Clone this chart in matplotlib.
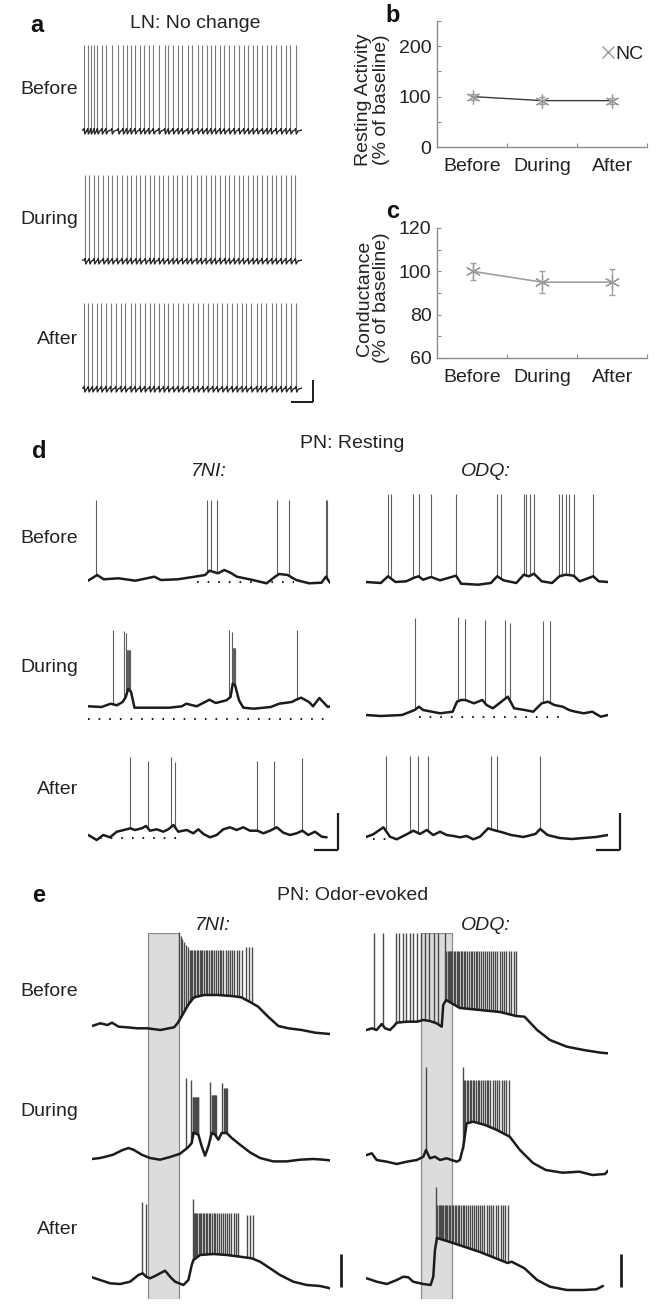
import numpy as np
import matplotlib
matplotlib.use("Agg")
import matplotlib.pyplot as plt
from matplotlib.lines import Line2D

plt.rcParams['font.family'] = ['Liberation Sans', 'DejaVu Sans']

# ------------------------------------------------------------------ data
# panel a : LN spike times (s) in a 10 s window
A_BEFORE_SPK = [0.10, 0.26, 0.40, 0.55, 0.70, 0.90, 1.08, 1.35, 1.65, 1.86, 2.03, 2.21,
                2.41, 2.64, 2.83, 3.03, 3.24, 3.49, 3.76, 3.92, 4.14, 4.35, 4.55, 4.80,
                5.01, 5.26, 5.47, 5.67, 5.86, 6.06, 6.27, 6.47, 6.70, 6.91, 7.14, 7.35,
                7.56, 7.76, 7.97, 8.20, 8.40, 8.59, 8.82, 9.05, 9.26, 9.47, 9.71]
A_DURING_SPK = [0.14, 0.33, 0.55, 0.74, 0.97, 1.17, 1.38, 1.60, 1.82, 2.03, 2.23, 2.45,
                2.65, 2.88, 3.09, 3.27, 3.50, 3.70, 3.92, 4.12, 4.33, 4.55, 4.76, 4.97,
                5.21, 5.41, 5.62, 5.85, 6.06, 6.27, 6.50, 6.70, 6.91, 7.12, 7.33, 7.55,
                7.76, 7.97, 8.18, 8.40, 8.62, 8.83, 9.05, 9.26, 9.49, 9.70]
A_AFTER_SPK = [0.10, 0.29, 0.47, 0.67, 0.88, 1.09, 1.30, 1.53, 1.76, 1.97, 2.21, 2.42,
               2.65, 2.85, 3.08, 3.27, 3.50, 3.71, 3.92, 4.15, 4.36, 4.58, 4.83, 5.06,
               5.27, 5.50, 5.71, 5.94, 6.15, 6.38, 6.59, 6.82, 7.03, 7.26, 7.47, 7.70,
               7.94, 8.14, 8.35, 8.62, 8.83, 9.05, 9.27, 9.49, 9.73]
A_PEAK = 25.0
A_REST = -60.0

# panels b, c
CONDITIONS = ['Before', 'During', 'After']
REST_ACT = [100, 92, 92]
REST_ACT_ERR = [6, 7, 6]
CONDUCT = [100, 95, 95]
CONDUCT_ERR = [4, 5, 6]

# panel d : PN resting, baseline knots (t s, mV) and spikes (t, peak mV)
D_BEF_L_T = [0, 0.38, 0.65, 1.26, 1.96, 2.74, 3.01, 3.71, 4.41, 4.84, 5.02, 5.37, 5.63, 5.89,
             6.15, 6.68, 7.38, 7.73, 7.90, 8.25, 8.60, 9.13, 9.65, 9.83, 10.0]
D_BEF_L_V = [-60.7, -55, -59.3, -58.3, -60.7, -56.7, -60, -59.3, -56.7, -55, -50.7, -53.3, -50,
             -52.7, -56.7, -59.3, -63.3, -56.7, -54, -55, -60, -63.3, -62.7, -56.7, -62.7]
D_BEF_L_SPK = [0.33, 4.93, 5.07, 5.33, 7.83, 8.29, 9.83, 9.88]
D_BEF_L_PK = 20.0

D_BEF_R_T = [0, 0.61, 0.91, 1.22, 1.66, 1.96, 2.17, 2.36, 2.69, 3.06, 3.72, 3.93, 4.63, 5.16,
             5.42, 5.68, 6.21, 6.52, 6.73, 6.94, 7.26, 7.69, 7.99, 8.25, 8.58, 8.83, 9.39,
             9.62, 10.0]
D_BEF_R_V = [-60, -61, -54.3, -60, -59.3, -56, -54.3, -57.7, -55, -58.3, -53.7, -61.7, -62.7,
             -61, -54.3, -58.3, -61, -52.7, -54.3, -51.7, -59.3, -61, -54.3, -52.7, -53.7,
             -59.3, -54.3, -59.3, -60]
D_BEF_R_SPK = [0.90, 1.05, 1.96, 2.17, 2.69, 3.72, 5.41, 5.57, 6.52, 6.62, 6.76, 6.93, 7.98,
               8.11, 8.25, 8.40, 8.58, 9.38]
D_BEF_R_PK = 28.0

D_DUR_L_T = [0, 0.56, 0.94, 1.19, 1.43, 1.56, 1.66, 1.78, 1.92, 2.66, 3.36, 3.88, 4.06, 4.49,
             5.02, 5.28, 5.72, 5.89, 5.98, 6.08, 6.24, 6.42, 6.85, 7.55, 7.90, 8.42, 8.60,
             8.81, 9.13, 9.30, 9.56, 9.91, 10.0]
D_DUR_L_V = [-59.3, -60, -56.7, -58.3, -55, -50, -41.7, -45, -60.7, -60.7, -60.7, -59.3, -56.7,
             -59.3, -52.7, -56, -53.3, -50, -36.7, -38.3, -53.3, -60.7, -61.7, -60, -56.7, -55,
             -52.7, -50.7, -55, -59.3, -51, -60, -59.3]
D_DUR_L_SPK = [1.05, 1.49, 1.57, 1.61, 1.63, 1.65, 1.67, 1.69, 1.71, 1.73, 1.75,
               5.82, 5.94, 5.98, 6.00, 6.02, 6.04, 6.06, 6.08, 8.62]
D_DUR_L_PK = [17, 16, 14, -3, -3, -3, -3, -3, -3, -3, -3,
              17, 15, -1, -1, -1, -1, -1, -1, 17]

D_DUR_R_T = [0, 0.61, 1.49, 2.01, 2.19, 2.36, 3.06, 3.58, 3.76, 3.93, 4.11, 4.46, 4.81, 4.98,
             5.24, 5.42, 5.68, 5.86, 6.12, 6.56, 6.91, 7.26, 7.52, 7.78, 8.13, 8.39, 8.65,
             9.0, 9.35, 9.70, 10.0]
D_DUR_R_V = [-60, -61, -60, -55, -51.7, -55, -58.3, -56.7, -46.7, -45, -45, -48.3, -45, -50,
             -53.3, -50, -45, -41.7, -53.3, -55, -56.7, -48.3, -46.7, -50, -51.7, -55, -56.7,
             -58.3, -56.7, -61.7, -60]
D_DUR_R_SPK = [2.03, 3.81, 4.09, 4.90, 5.75, 5.93, 7.31, 7.60]
D_DUR_R_PK = [36.7, 38.3, 35.7, 35, 35, 32.3, 34.3, 34.3]

D_AFT_L_T = [0.01, 0.36, 0.63, 0.91, 1.19, 1.60, 1.75, 1.94, 2.22, 2.40, 2.56, 2.84, 3.11, 3.32,
             3.53, 3.73, 4.08, 4.35, 4.56, 4.77, 5.04, 5.32, 5.59, 5.87, 6.14, 6.42, 6.69,
             7.0, 7.25, 7.52, 7.80, 8.07, 8.35, 8.62, 8.86, 9.10, 9.38, 9.66, 9.86]
D_AFT_L_V = [-60, -65, -60, -62.3, -56.7, -54.3, -53.3, -55, -53.3, -51, -55.7, -54.3, -56.7,
             -54.3, -50, -56.7, -55, -58.3, -54.3, -59, -62.3, -60, -54.3, -52.3, -55, -52.3,
             -55.7, -55.7, -58.3, -55.7, -52.3, -57.7, -60, -58.3, -55.7, -60, -56.7, -61.7,
             -62.3]
D_AFT_L_SPK = [1.75, 2.47, 3.42, 3.61, 7.00, 7.70, 8.86]
D_AFT_L_PK = [18, 14, 18, 13, 14, 14, 17]

D_AFT_R_T = [0, 0.30, 0.72, 0.99, 1.27, 1.68, 1.96, 2.23, 2.51, 2.78, 3.06, 3.33, 3.61, 3.88,
             4.16, 4.43, 4.71, 5.05, 5.26, 5.54, 6.0, 6.5, 7.0, 7.2, 7.5, 8.0, 8.5, 9.0, 9.5,
             10.0]
D_AFT_R_V = [-60, -57.3, -50.3, -59.7, -62.3, -57.3, -53.7, -57, -53, -58, -54.7, -58, -59,
             -60.3, -59, -62.3, -59.7, -51.3, -53, -54.7, -58, -60, -57, -52, -58, -61, -62,
             -61, -60, -58]
D_AFT_R_SPK = [0.82, 1.80, 2.13, 2.57, 5.15, 5.41, 7.21]
D_AFT_R_PK = 21.0

# reference (dotted) levels: (level mV, start s, end s)
D_DOTS = {'bef_l': (-62, 4.5, 8.5), 'dur_l': (-72.3, 0.0, 10.0), 'dur_r': (-62, 2.2, 8.2),
          'aft_l': (-63, 0.5, 4.0), 'aft_r': (-62, 0.3, 1.5)}

# panel e : PN odor-evoked
E_STIM_L = (2.35, 3.66)
E_STIM_R = (2.27, 3.55)

E_BEF_L_T = [0, 0.35, 0.65, 0.84, 1.12, 1.47, 1.89, 2.32, 2.88, 3.45, 3.59, 3.80, 4.08, 4.29,
             4.72, 5.28, 5.85, 6.27, 6.62, 6.98, 7.40, 7.83, 8.25, 8.81, 9.38, 10.0]
E_BEF_L_V = [-60, -57.3, -59, -56.7, -60.7, -61.3, -62.3, -62.3, -64, -61.3, -57.3, -49, -37.3,
             -31.3, -29, -29, -30, -31.3, -35.7, -40.7, -50.7, -60, -62.3, -64, -66.7, -68]
E_BEF_L_SPK = [3.64, 3.72, 3.80, 3.88, 3.96, 4.03,
               4.10, 4.16, 4.22, 4.28, 4.34, 4.40, 4.46, 4.52, 4.58, 4.64, 4.70, 4.77, 4.84,
               4.91, 4.98, 5.05, 5.12, 5.20, 5.28, 5.36, 5.44, 5.52, 5.61, 5.70, 5.79, 5.88,
               5.98, 6.08, 6.18, 6.30, 6.48, 6.61, 6.74]
E_BEF_L_PK = [34, 30, 27, 24, 21, 19] + [16] * 30 + [19, 19, 19]

E_BEF_R_T = [0.03, 0.24, 0.44, 0.65, 0.79, 0.99, 1.13, 1.27, 1.68, 2.10, 2.37, 2.64, 2.92,
             3.13, 3.19, 3.31, 3.88, 4.71, 5.54, 6.20, 6.55, 7.07, 7.60, 8.30, 9.0, 9.70, 10.0]
E_BEF_R_V = [-60, -58.3, -60, -54, -58.3, -60, -56.7, -52.7, -51.7, -51.7, -50, -51, -53.3,
             -56.7, -35, -30, -38, -40, -42, -46, -46.7, -60, -70, -76.7, -80, -82.7, -83.3]
E_BEF_R_SPK = [0.31, 0.72, 1.22, 1.36, 1.51, 1.65, 1.80, 1.94, 2.11, 2.27, 2.44, 2.60, 2.81,
               2.99, 3.26,
               3.32, 3.37, 3.42, 3.47, 3.52, 3.57, 3.62, 3.68, 3.74, 3.80, 3.86, 3.92, 3.98,
               4.04, 4.11, 4.18, 4.25, 4.32, 4.39, 4.46, 4.53, 4.60, 4.68, 4.76, 4.84, 4.92,
               5.00, 5.08, 5.16, 5.25, 5.34, 5.43, 5.52, 5.61, 5.70, 5.80, 5.90, 6.00, 6.10,
               6.20]
E_BEF_R_PK = [37] * 15 + [19] * 40

E_DUR_L_T = [0, 0.34, 0.62, 0.89, 1.25, 1.53, 1.74, 2.09, 2.44, 2.86, 3.28, 3.70, 3.91, 4.05,
             4.19, 4.26, 4.47, 4.61, 4.75, 4.89, 5.03, 5.17, 5.31, 5.45, 5.66, 5.87, 6.22,
             6.64, 7.06, 7.62, 8.18, 8.74, 9.30, 9.72, 10.0]
E_DUR_L_V = [-60, -59, -57.4, -55.7, -51.4, -49, -50.7, -55.7, -59, -60.7, -58, -54.7, -50.7,
             -48, -44, -33.7, -35.7, -47.4, -56.7, -47.4, -34, -35.7, -40.7, -34, -34, -39,
             -45.7, -53.4, -59, -62.4, -62.4, -60.7, -60, -60.7, -61.4]
E_DUR_L_SPK = [3.94, 4.16, 4.23, 4.26, 4.29, 4.32, 4.35, 4.38, 4.41, 4.44, 4.47,
               4.96, 5.03, 5.06, 5.09, 5.12, 5.15, 5.18, 5.21,
               5.47, 5.56, 5.60, 5.64, 5.69]
E_DUR_L_PK = [21, 19] + [2] * 9 + [17] + [4] * 7 + [16] + [11] * 4

E_DUR_R_T = [0.03, 0.24, 0.44, 0.86, 1.27, 1.68, 2.10, 2.37, 2.48, 2.64, 2.85, 3.06, 3.33,
             3.75, 3.88, 4.02, 4.16, 4.43, 4.92, 5.41, 5.94, 6.36, 6.90, 7.43, 8.12, 8.82,
             9.35, 9.88, 10.0]
E_DUR_R_V = [-55, -53.3, -60, -61.7, -64, -61.7, -60, -56.7, -50, -58.3, -56.7, -60, -58.3,
             -61.7, -60, -46.7, -23.3, -21.7, -25, -30, -36.7, -50, -63, -70, -72.7, -71.7,
             -75, -74, -70.7]
E_DUR_R_SPK = [2.48, 4.00, 4.05, 4.11, 4.17, 4.23, 4.29, 4.35, 4.41, 4.47, 4.54, 4.61, 4.68,
               4.75, 4.82, 4.90, 4.98, 5.06, 5.14, 5.23, 5.32, 5.41, 5.50, 5.60, 5.70, 5.80,
               5.90]
E_DUR_R_PK = [33, 33] + [20] * 25

E_AFT_L_T = [0, 0.34, 0.76, 1.18, 1.60, 1.95, 2.13, 2.27, 2.44, 2.65, 2.86, 3.07, 3.28, 3.49,
             3.84, 4.05, 4.19, 4.26, 4.54, 5.10, 5.66, 6.22, 6.71, 7.06, 7.48, 7.90, 8.46,
             9.02, 9.58, 10.0]
E_AFT_L_V = [-54.3, -57, -60.3, -61, -58.7, -52, -50.3, -53.7, -55.3, -53, -50.3, -47.7,
             -53.7, -58.7, -62, -57, -42, -37, -32, -31, -32, -33.7, -35.3, -38.7, -45.3,
             -52, -58.7, -62, -63, -65.3]
E_AFT_L_SPK = [2.10, 2.27, 4.23,
               4.28, 4.33, 4.38, 4.43, 4.48, 4.53, 4.59, 4.65, 4.71, 4.77, 4.83, 4.90, 4.97,
               5.04, 5.11, 5.18, 5.26, 5.34, 5.42, 5.50, 5.58, 5.67, 5.76, 5.85, 5.95, 6.05,
               6.15, 6.50, 6.64, 6.75]
E_AFT_L_PK = [21, 19, 24] + [10] * 27 + [8, 8, 8]

E_AFT_R_T = [0.03, 0.44, 0.86, 1.27, 1.54, 1.75, 1.95, 2.37, 2.67, 2.78, 2.85, 2.93, 3.47,
             4.09, 4.71, 5.33, 5.85, 6.02, 6.55, 7.07, 7.60, 8.30, 9.0, 9.52, 9.79]
E_AFT_R_V = [-55.3, -58.7, -61, -57, -53.7, -54.3, -58.7, -61, -62, -53.7, -27, -15, -19,
             -24, -29, -35, -40, -38.7, -45.3, -57, -63.7, -67, -67, -66.3, -63]
E_AFT_R_SPK = [2.89, 2.95, 3.00, 3.05, 3.10, 3.15, 3.20, 3.25, 3.30, 3.36, 3.42, 3.48, 3.54,
               3.60, 3.66, 3.72, 3.79, 3.86, 3.93, 4.00, 4.07, 4.14, 4.22, 4.30, 4.38, 4.46,
               4.54, 4.62, 4.71, 4.80, 4.89, 4.98, 5.07, 5.16, 5.26, 5.36, 5.46, 5.56, 5.66,
               5.76, 5.85]
E_AFT_R_PK = [36] + [18] * 40

# scale bars (s, mV)
SCALE_A = (1.0, 22.0)
SCALE_D = (1.0, 37.0)
SCALE_E = 33.0

# ------------------------------------------------------------------ layout helpers
W, H = 660, 1313
fig = plt.figure(figsize=(W / 100, H / 100), dpi=100)
TXT = '#222222'


def px_axes(x0, y0, x1, y1, z=1):
    ax = fig.add_axes([x0 / W, 1 - y1 / H, (x1 - x0) / W, (y1 - y0) / H])
    ax.set_zorder(z)
    return ax


def ftext(x, y, s, size=14, **kw):
    kw.setdefault('ha', 'center')
    kw.setdefault('va', 'center')
    kw.setdefault('color', TXT)
    fig.text(x / W, 1 - y / H, s, fontsize=size, **kw)


VMIN, VMAX, VREST = -95.0, 45.0, -60.0


def trace_axes(x0, x1, base_px):
    ax = px_axes(x0, base_px - (VMAX - VREST), x1, base_px + (VREST - VMIN), z=2)
    ax.set_xlim(0, 10)
    ax.set_ylim(VMIN, VMAX)
    ax.axis('off')
    ax.patch.set_alpha(0)
    return ax


def draw_trace(ax, kt, kv, st, sv, base_lw=1.8, spk_lw=0.8, spk_col='#5e5e5e'):
    kt = np.asarray(kt, float)
    kv = np.asarray(kv, float)
    st = np.asarray(st, float)
    sv = np.broadcast_to(np.asarray(sv, float), st.shape)
    base_at = np.interp(st, kt, kv)
    ax.vlines(st, base_at, sv, color=spk_col, lw=spk_lw, zorder=2)
    ax.plot(kt, kv, color='#1c1c1c', lw=base_lw, zorder=3, solid_joinstyle='round',
            solid_capstyle='round')


def dotted(ax, spec):
    lev, t0, t1 = spec
    ax.hlines(lev, t0, t1, colors='#222222', lw=1.5, linestyles=(0, (0.8, 4.3)), zorder=1)


def scalebar(ax, x_end, v_bot, t_len, v_len, lw=1.6):
    if t_len:
        ax.plot([x_end - t_len, x_end], [v_bot, v_bot], color='#1c1c1c', lw=lw,
                clip_on=False, solid_capstyle='butt')
    ax.plot([x_end, x_end], [v_bot, v_bot + v_len], color='#1c1c1c', lw=lw,
            clip_on=False, solid_capstyle='butt')


# ------------------------------------------------------------------ panel a
AHP_SHAPE = [(-0.03, 0.0), (0.0, 1.5), (0.03, -4.0), (0.11, -1.0)]


def ln_trace(ax, spk):
    t, v = [0.0], [A_REST]
    for s in spk:
        for dt, dv in AHP_SHAPE:
            t.append(s + dt)
            v.append(A_REST + dv)
    t.append(10.0)
    v.append(A_REST)
    ax.vlines(spk, A_REST, A_PEAK, color='#7a7a7a', lw=0.8, zorder=2)
    ax.plot(t, v, color='#262626', lw=1.0, zorder=3)


ftext(37, 25, 'a', size=17, weight='bold', color='#111111')
ftext(195, 23, 'LN: No change')
for lab, base, spk in [('Before', 130, A_BEFORE_SPK), ('During', 260, A_DURING_SPK),
                       ('After', 388, A_AFTER_SPK)]:
    ax = trace_axes(82, 302, base)
    ln_trace(ax, spk)
    ftext(78, base - 40 if lab != 'After' else base - 48, lab, ha='right')
    if lab == 'After':
        scalebar(ax, 10.5, -73.7, SCALE_A[0], SCALE_A[1], lw=1.4)

# ------------------------------------------------------------------ panels b, c
xs = np.arange(1, len(CONDITIONS) + 1)


def style_stat_axes(ax, ylim, major, minor):
    ax.set_xlim(0.49, 3.5)
    ax.set_ylim(*ylim)
    for s in ['top', 'right']:
        ax.spines[s].set_visible(False)
    for s in ['left', 'bottom']:
        ax.spines[s].set_color('#8c8c8c')
        ax.spines[s].set_linewidth(1.0)
    ax.set_yticks(major)
    ax.set_yticks(minor, minor=True)
    ax.set_xticks(xs)
    ax.set_xticklabels(CONDITIONS)
    ax.set_xticks([1.5, 2.5, 3.5], minor=True)
    ax.tick_params(axis='both', which='both', direction='in', color='#8c8c8c',
                   labelsize=14, labelcolor=TXT, length=3, width=0.8)
    ax.tick_params(axis='x', which='major', length=0, pad=8)
    ax.tick_params(axis='y', which='major', pad=4)
    ax.patch.set_alpha(0)


ASTER = (6, 2, 0)

axb = px_axes(437, 21, 647, 147)
style_stat_axes(axb, (0, 250), [0, 100, 200], [50, 150, 250])
axb.plot(xs, REST_ACT, color='#3a3a3a', lw=1.0, zorder=2)
axb.errorbar(xs, REST_ACT, yerr=REST_ACT_ERR, fmt='none', ecolor='#9a9a9a', elinewidth=0.9,
             capsize=2.5, zorder=3)
axb.plot(xs, REST_ACT, ls='none', marker=ASTER, ms=10, mew=0.9, mec='#9a9a9a', zorder=4)
leg = axb.legend([Line2D([], [], ls='none', marker='x', ms=8, mew=1.0, color='#9a9a9a')],
                 ['NC'], loc='upper right', bbox_to_anchor=(1.02, 0.87), frameon=False,
                 handlelength=0.6, handletextpad=0.1, borderaxespad=0, fontsize=14)
for tx in leg.get_texts():
    tx.set_color(TXT)
ftext(393, 15, 'b', size=17, weight='bold', color='#111111')
ftext(364, 100, 'Resting Activity', rotation=90)
ftext(382, 100, '(% of baseline)', rotation=90)

axc = px_axes(437, 228, 647, 358)
style_stat_axes(axc, (60, 120), [60, 80, 100, 120], [70, 90, 110])
axc.plot(xs, CONDUCT, color='#a0a0a0', lw=1.2, zorder=2)
axc.errorbar(xs, CONDUCT, yerr=CONDUCT_ERR, fmt='none', ecolor='#a0a0a0', elinewidth=0.9,
             capsize=2.5, zorder=3)
axc.plot(xs, CONDUCT, ls='none', marker=ASTER, ms=11, mew=0.9, mec='#9a9a9a', zorder=4)
ftext(393, 212, 'c', size=17, weight='bold', color='#111111')
ftext(364, 298, 'Conductance', rotation=90)
ftext(382, 298, '(% of baseline)', rotation=90)

# ------------------------------------------------------------------ panel d
ftext(39, 452, 'd', size=17, weight='bold', color='#111111')
ftext(352, 443, 'PN: Resting')
ftext(209, 472, '7NI:', style='italic')
ftext(486, 472, 'ODQ:', style='italic')

DL, DR = (88, 330), (366, 608)
rows_d = [
    ('Before', 539, (580, D_BEF_L_T, D_BEF_L_V, D_BEF_L_SPK, D_BEF_L_PK, 'bef_l'),
     (582, D_BEF_R_T, D_BEF_R_V, D_BEF_R_SPK, D_BEF_R_PK, None)),
    ('During', 667, (707, D_DUR_L_T, D_DUR_L_V, D_DUR_L_SPK, D_DUR_L_PK, 'dur_l'),
     (715, D_DUR_R_T, D_DUR_R_V, D_DUR_R_SPK, D_DUR_R_PK, 'dur_r')),
    ('After', 789, (835, D_AFT_L_T, D_AFT_L_V, D_AFT_L_SPK, D_AFT_L_PK, 'aft_l'),
     (837, D_AFT_R_T, D_AFT_R_V, D_AFT_R_SPK, D_AFT_R_PK, 'aft_r')),
]
for lab, ly, left, right in rows_d:
    ftext(78, ly, lab, ha='right')
    for (x0, x1), spec in [(DL, left), (DR, right)]:
        base, kt, kv, st, sv, dkey = spec
        ax = trace_axes(x0, x1, base)
        if dkey:
            dotted(ax, D_DOTS[dkey])
        draw_trace(ax, kt, kv, st, sv)
        if lab == 'After':
            if x0 == DL[0]:
                scalebar(ax, 10.33, -75, SCALE_D[0], SCALE_D[1])
            else:
                scalebar(ax, 10.5, -73, SCALE_D[0], SCALE_D[1])

# ------------------------------------------------------------------ panel e
ftext(39, 895, 'e', size=17, weight='bold', color='#111111')
ftext(353, 895, 'PN: Odor-evoked')
ftext(213, 925, '7NI:', style='italic')
ftext(486, 925, 'ODQ:', style='italic')

EL, ER = (92, 330), (366, 608)
for (x0, x1), stim in [(EL, E_STIM_L), (ER, E_STIM_R)]:
    sax = px_axes(x0, 933, x1, 1299, z=0)
    sax.set_xlim(0, 10)
    sax.set_ylim(0, 1)
    sax.axis('off')
    sax.axvspan(stim[0], stim[1], 0, 1, facecolor='#dcdcdc', edgecolor='#8c8c8c', lw=0.9)

rows_e = [
    ('Before', 992, (1026, E_BEF_L_T, E_BEF_L_V, E_BEF_L_SPK, E_BEF_L_PK),
     (1030, E_BEF_R_T, E_BEF_R_V, E_BEF_R_SPK, E_BEF_R_PK)),
    ('During', 1112, (1159, E_DUR_L_T, E_DUR_L_V, E_DUR_L_SPK, E_DUR_L_PK),
     (1160, E_DUR_R_T, E_DUR_R_V, E_DUR_R_SPK, E_DUR_R_PK)),
    ('After', 1230, (1283, E_AFT_L_T, E_AFT_L_V, E_AFT_L_SPK, E_AFT_L_PK),
     (1283, E_AFT_R_T, E_AFT_R_V, E_AFT_R_SPK, E_AFT_R_PK)),
]
for lab, ly, left, right in rows_e:
    ftext(78, ly, lab, ha='right')
    for (x0, x1), spec in [(EL, left), (ER, right)]:
        base, kt, kv, st, sv = spec
        ax = trace_axes(x0, x1, base)
        draw_trace(ax, kt, kv, st, sv, base_lw=1.8, spk_lw=1.0, spk_col='#4a4a4a')
        if lab == 'After':
            if x0 == EL[0]:
                scalebar(ax, 10.45, -63.7, 0, SCALE_E, lw=2.0)
            else:
                scalebar(ax, 10.54, -64, 0, SCALE_E, lw=2.0)

fig.savefig('out.png', dpi=100, facecolor='white')
